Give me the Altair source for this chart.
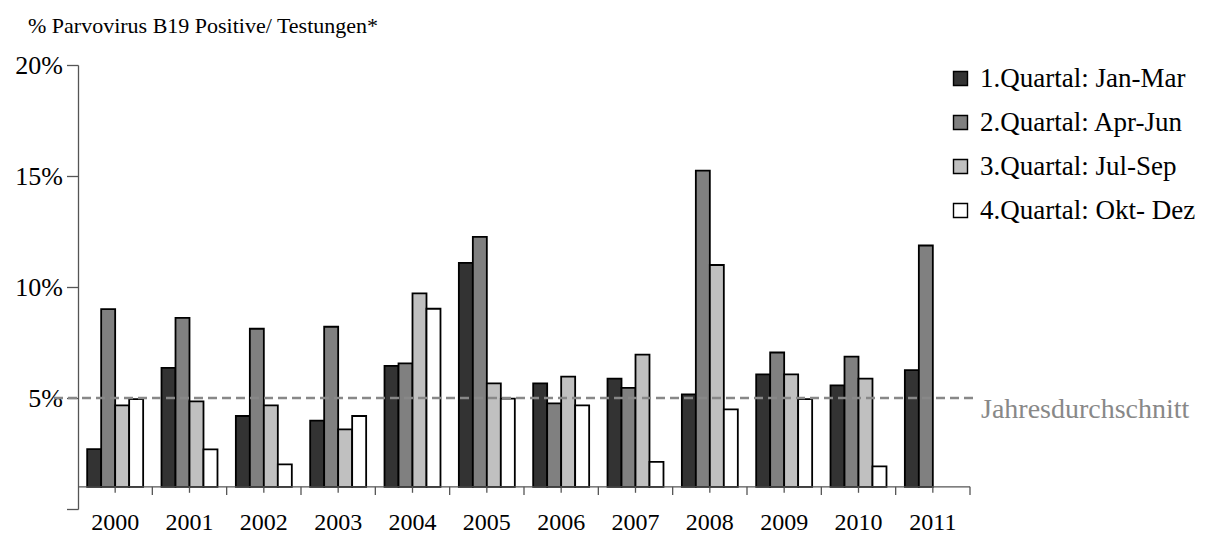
import altair as alt
import pandas as pd

years = ["2000", "2001", "2002", "2003", "2004", "2005", "2006", "2007", "2008", "2009", "2010", "2011"]
quarters = ["1.Quartal: Jan-Mar", "2.Quartal: Apr-Jun", "3.Quartal: Jul-Sep", "4.Quartal: Okt- Dez"]
q1 = [2.70, 6.36, 4.19, 3.98, 6.45, 11.09, 5.66, 5.87, 5.16, 6.06, 5.57, 6.26]
q2 = [9.00, 8.61, 8.12, 8.21, 6.56, 12.26, 4.76, 5.46, 15.24, 7.05, 6.86, 11.87]
q3 = [4.67, 4.85, 4.67, 3.59, 9.71, 5.66, 5.96, 6.95, 10.99, 6.06, 5.87, None]
q4 = [4.95, 2.69, 2.01, 4.19, 9.02, 4.97, 4.67, 2.12, 4.49, 4.95, 1.92, None]
colors = ["#333333", "#808080", "#c0c0c0", "#ffffff"]
average = 5
base = 1
title_text = "% Parvovirus B19 Positive/ Testungen*"
avg_label = "Jahresdurchschnitt"

FONT = "Liberation Serif"
W, H = 892, 444

rows = []
for qname, series in zip(quarters, [q1, q2, q3, q4]):
    for y, v in zip(years, series):
        if v is not None:
            rows.append({"year": y, "quarter": qname, "value": v})
df = pd.DataFrame(rows)
ydf = pd.DataFrame({"year": years})
one = pd.DataFrame({"a": [0]})

yscale = alt.Scale(domain=[0, 20], nice=False, zero=False)
xscale = alt.Scale(domain=years, paddingInner=0, paddingOuter=0)

bars = alt.Chart(df).mark_bar(stroke="black", strokeWidth=1.8).encode(
    x=alt.X("year:N", scale=xscale, sort=years,
            axis=alt.Axis(title=None, domain=False, ticks=False, labelAngle=0,
                          labelFont=FONT, labelFontSize=24, labelColor="black",
                          labelPadding=1)),
    xOffset=alt.XOffset("quarter:N", sort=quarters,
                        scale=alt.Scale(domain=quarters, paddingInner=0, paddingOuter=0.656)),
    y=alt.Y("value:Q", scale=yscale,
            axis=alt.Axis(title=None, values=[0, 5, 10, 15, 20], grid=False,
                          labelExpr="datum.value == 0 ? '' : datum.value + '%'",
                          tickSize=11.5, labelPadding=4, labelFont=FONT, labelFontSize=26,
                          labelColor="black", domainColor="#555555", tickColor="#555555",
                          domainWidth=1.3, tickWidth=1.3)),
    y2=alt.datum(base),
    color=alt.Color("quarter:N", sort=quarters,
                    scale=alt.Scale(domain=quarters, range=colors),
                    legend=alt.Legend(title=None, orient="none", legendX=869, legendY=0,
                                      symbolType="square", symbolSize=196,
                                      symbolStrokeColor="black", symbolStrokeWidth=1.4,
                                      symbolOpacity=1, labelFont=FONT, labelFontSize=27,
                                      labelColor="black", rowPadding=16, labelOffset=6,
                                      labelLimit=400, padding=0)),
)

baseline = alt.Chart(one).mark_rule(color="#555555", strokeWidth=1.3).encode(
    y=alt.datum(base))

center_ticks = alt.Chart(ydf).mark_rule(color="#555555", strokeWidth=1.3).encode(
    x=alt.X("year:N", sort=years),
    y=alt.datum(base),
    y2=alt.datum(0.73),
)
edge_ticks = alt.Chart(ydf).mark_rule(color="#555555", strokeWidth=1.3).encode(
    x=alt.X("year:N", sort=years, bandPosition=1),
    y=alt.datum(base),
    y2=alt.datum(0.63),
)

avg_line = alt.Chart(one).mark_rule(color="#888888", strokeDash=[9, 5], strokeWidth=2.5).encode(
    y=alt.datum(average),
    x=alt.value(-24),
    x2=alt.value(W + 7),
)

avg_text = alt.Chart(one).mark_text(text=avg_label, align="left", baseline="alphabetic",
                                    font=FONT, fontSize=28, color="#888888", dy=20).encode(
    x=alt.value(W + 11),
    y=alt.datum(average),
)

title = alt.Chart(one).mark_text(text=title_text, align="left", baseline="alphabetic",
                                 font=FONT, fontSize=22, color="black").encode(
    x=alt.value(-50),
    y=alt.value(-32),
)

chart = alt.layer(bars, baseline, center_ticks, edge_ticks, avg_line, avg_text, title).properties(
    width=W, height=H,
    autosize=alt.AutoSizeParams(type="none"),
    padding={"left": 70, "top": 57, "right": 230, "bottom": 26},
    background="white",
).configure(font=FONT).configure_view(stroke=None)

chart.save("out.html", embed_options={"renderer": "svg", "actions": False})
